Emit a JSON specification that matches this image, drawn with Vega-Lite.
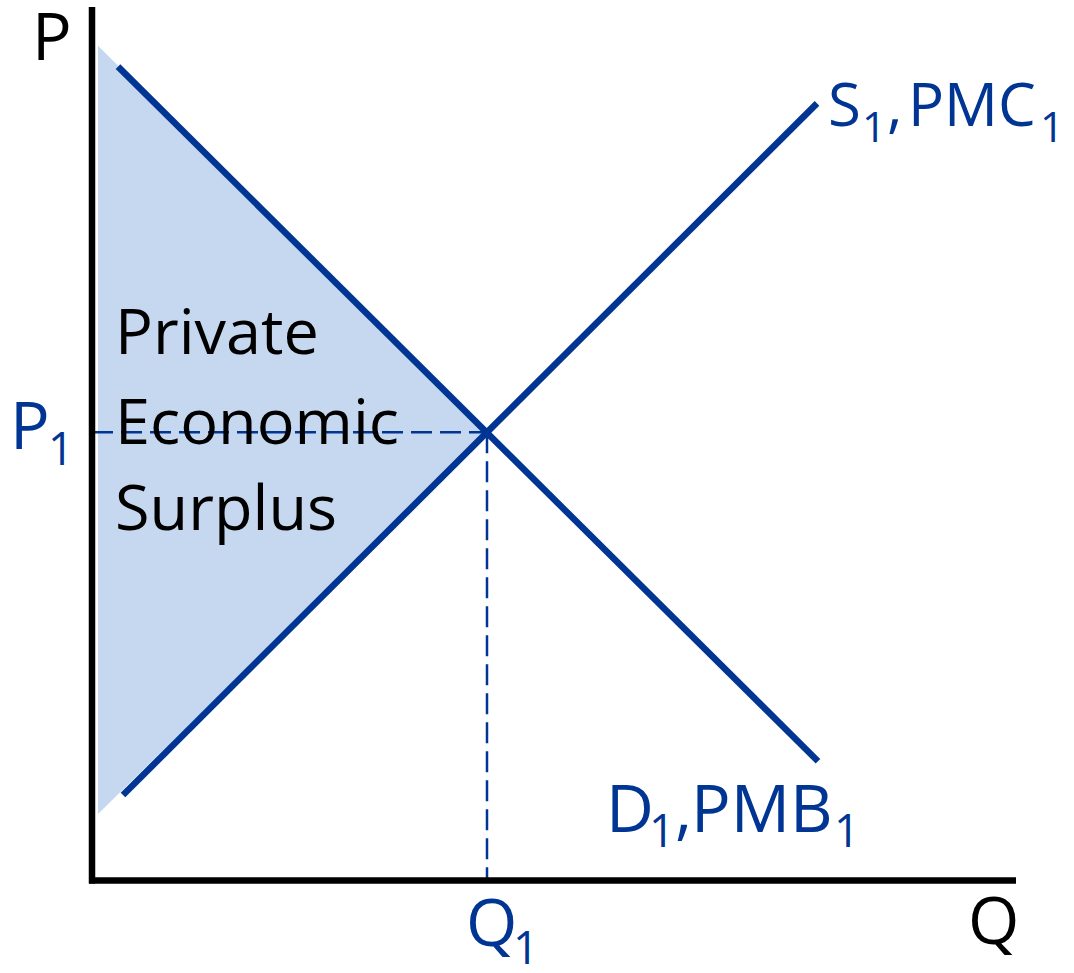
{
  "$schema": "https://vega.github.io/schema/vega-lite/v6.json",
  "width": 1074,
  "height": 973,
  "autosize": {"type": "fit", "contains": "padding"},
  "padding": 0,
  "background": "white",
  "config": {"view": {"stroke": null}},
  "datasets": {
    "surplus": [
      {"Q": 6, "P": 840, "P2": 67},
      {"Q": 395, "P": 451, "P2": 451}
    ],
    "axes": [
      {"Q": 0, "P": -3, "Q2": 0, "P2": 879},
      {"Q": -3, "P": 0, "Q2": 924, "P2": 0}
    ],
    "guides": [
      {"Q": 0, "P": 451, "Q2": 395, "P2": 451},
      {"Q": 395, "P": 451, "Q2": 395, "P2": 0}
    ],
    "curves": [
      {"curve": "S1", "Q": 31, "P": 86},
      {"curve": "S1", "Q": 725, "P": 782},
      {"curve": "D1", "Q": 26, "P": 819},
      {"curve": "D1", "Q": 726, "P": 120}
    ],
    "labels": [
      {"kind": "axis", "text": "P", "Q": -60, "P": 826},
      {"kind": "axis", "text": "Q", "Q": 876, "P": -64},
      {"kind": "note", "text": "Private", "Q": 23, "P": 530},
      {"kind": "note", "text": "Economic", "Q": 23, "P": 439},
      {"kind": "note", "text": "Surplus", "Q": 23, "P": 353},
      {"kind": "main", "text": "P", "Q": -82, "P": 434},
      {"kind": "main", "text": "Q", "Q": 374, "P": -66},
      {"kind": "main", "text": "D", "Q": 514, "P": 49},
      {"kind": "main", "text": ",", "Q": 583, "P": 49},
      {"kind": "main", "text": "PMB", "Q": 599, "P": 49},
      {"kind": "sub", "text": "1", "Q": -44, "P": 418},
      {"kind": "sub", "text": "1", "Q": 421, "P": -84},
      {"kind": "sub", "text": "1", "Q": 557, "P": 34},
      {"kind": "sub", "text": "1", "Q": 742, "P": 34},
      {"kind": "mainS", "text": "S", "Q": 736, "P": 759},
      {"kind": "mainS", "text": ",", "Q": 795, "P": 759},
      {"kind": "mainS", "text": "PMC", "Q": 816, "P": 759},
      {"kind": "subS", "text": "1", "Q": 770, "P": 743},
      {"kind": "subS", "text": "1", "Q": 948, "P": 743}
    ]
  },
  "encoding": {
    "x": {"field": "Q", "type": "quantitative", "scale": {"domain": [-92, 982], "nice": false, "zero": false}, "axis": null},
    "y": {"field": "P", "type": "quantitative", "scale": {"domain": [-87, 886], "nice": false, "zero": false}, "axis": null}
  },
  "layer": [
    {
      "data": {"name": "surplus"},
      "mark": {"type": "area", "color": "#c6d8ef", "opacity": 1},
      "encoding": {"y2": {"field": "P2"}}
    },
    {
      "data": {"name": "guides"},
      "mark": {"type": "rule", "color": "#003594", "strokeWidth": 2.5, "strokeDash": [21, 8]},
      "encoding": {"x2": {"field": "Q2"}, "y2": {"field": "P2"}}
    },
    {
      "data": {"name": "curves"},
      "mark": {"type": "line", "color": "#003594", "strokeWidth": 6.5},
      "encoding": {"detail": {"field": "curve"}}
    },
    {
      "data": {"name": "axes"},
      "mark": {"type": "rule", "color": "black", "strokeWidth": 6.5},
      "encoding": {"x2": {"field": "Q2"}, "y2": {"field": "P2"}}
    },
    {
      "data": {"name": "labels"},
      "transform": [{"filter": "datum.kind === 'axis'"}],
      "mark": {"type": "text", "align": "left", "baseline": "alphabetic", "font": "Open Sans", "fontSize": 66, "color": "black"},
      "encoding": {"text": {"field": "text"}}
    },
    {
      "data": {"name": "labels"},
      "transform": [{"filter": "datum.kind === 'note'"}],
      "mark": {"type": "text", "align": "left", "baseline": "alphabetic", "font": "Open Sans", "fontSize": 63, "color": "black"},
      "encoding": {"text": {"field": "text"}}
    },
    {
      "data": {"name": "labels"},
      "transform": [{"filter": "datum.kind === 'main'"}],
      "mark": {"type": "text", "align": "left", "baseline": "alphabetic", "font": "Open Sans", "fontSize": 66, "color": "#003594"},
      "encoding": {"text": {"field": "text"}}
    },
    {
      "data": {"name": "labels"},
      "transform": [{"filter": "datum.kind === 'sub'"}],
      "mark": {"type": "text", "align": "left", "baseline": "alphabetic", "font": "Open Sans", "fontSize": 45, "color": "#003594"},
      "encoding": {"text": {"field": "text"}}
    },
    {
      "data": {"name": "labels"},
      "transform": [{"filter": "datum.kind === 'mainS'"}],
      "mark": {"type": "text", "align": "left", "baseline": "alphabetic", "font": "Open Sans", "fontSize": 60, "color": "#003594"},
      "encoding": {"text": {"field": "text"}}
    },
    {
      "data": {"name": "labels"},
      "transform": [{"filter": "datum.kind === 'subS'"}],
      "mark": {"type": "text", "align": "left", "baseline": "alphabetic", "font": "Open Sans", "fontSize": 42, "color": "#003594"},
      "encoding": {"text": {"field": "text"}}
    }
  ]
}
